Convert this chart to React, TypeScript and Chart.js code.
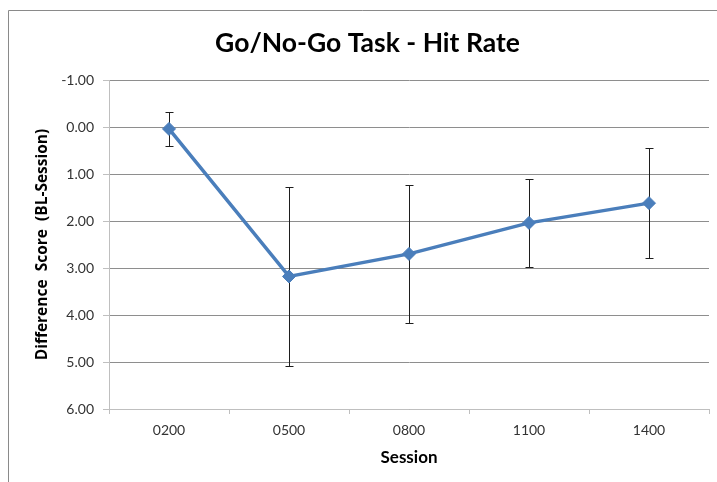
import React, { useEffect, useRef } from "react";
import { Chart, registerables } from "chart.js";

Chart.register(...registerables);

// ---- data ----
const categories = ["0200", "0500", "0800", "1100", "1400"];
const hitRateDiff = [0.04, 3.18, 2.7, 2.04, 1.62];
const errorSize = [0.36, 1.91, 1.47, 0.94, 1.17];
const yMin = -1;
const yMax = 6;
const yStep = 1;

const titleText = "Go/No-Go Task - Hit Rate";
const xTitle = "Session";
const yTitle = "Difference  Score  (BL-Session)";

const framePlugin = {
  id: "frame",
  beforeDraw(chart: any) {
    const { ctx, width, height } = chart;
    ctx.save();
    ctx.fillStyle = "#ffffff";
    ctx.fillRect(0, 0, width, height);
    ctx.strokeStyle = "#8a8a8a";
    ctx.lineWidth = 1;
    ctx.beginPath();
    ctx.moveTo(8.5, height);
    ctx.lineTo(8.5, 10.5);
    ctx.lineTo(width, 10.5);
    ctx.stroke();
    ctx.restore();
  },
};

const errorBarPlugin = {
  id: "errorBars",
  beforeDatasetsDraw(chart: any) {
    const { ctx } = chart;
    const x = chart.scales.x;
    const y = chart.scales.y;
    ctx.save();
    ctx.strokeStyle = "#1e1e1e";
    ctx.lineWidth = 1;
    hitRateDiff.forEach((v, i) => {
      const px = Math.round(x.getPixelForValue(i)) + 0.5;
      const top = Math.round(y.getPixelForValue(v - errorSize[i])) + 0.5;
      const bot = Math.round(y.getPixelForValue(v + errorSize[i])) + 0.5;
      ctx.beginPath();
      ctx.moveTo(px, top);
      ctx.lineTo(px, bot);
      ctx.moveTo(px - 4, top);
      ctx.lineTo(px + 4, top);
      ctx.moveTo(px - 4, bot);
      ctx.lineTo(px + 4, bot);
      ctx.stroke();
    });
    ctx.restore();
  },
};

export default function App() {
  const ref = useRef<HTMLCanvasElement>(null);

  useEffect(() => {
    if (!ref.current) return;
    const chart = new Chart(ref.current, {
      type: "line",
      data: {
        labels: categories,
        datasets: [
          {
            data: hitRateDiff,
            borderColor: "#4a7ebb",
            backgroundColor: "#4a7ebb",
            borderWidth: 3.5,
            pointStyle: "rectRot",
            pointRadius: 6.5,
            pointBorderWidth: 1,
            pointBorderColor: "#4a7ebb",
            pointBackgroundColor: "#4a7ebb",
            tension: 0,
          },
        ],
      },
      options: {
        responsive: false,
        animation: false,
        layout: { padding: { left: 26, right: 8, top: 0, bottom: 0 } },
        plugins: {
          legend: { display: false },
          tooltip: { enabled: false },
          title: {
            display: true,
            text: titleText,
            color: "#000000",
            font: { family: "Lato", weight: "bold", size: 26.5 },
            padding: { top: 27.5, bottom: 20.7 },
          },
        },
        scales: {
          x: {
            type: "category",
            offset: true,
            grid: {
              drawOnChartArea: false,
              offset: true,
              tickLength: 5,
              color: "#bfbfbf",
            },
            border: { color: "#bfbfbf" },
            ticks: {
              color: "#333333",
              font: { family: "Lato", size: 14 },
              padding: 8,
              maxRotation: 0,
            },
            title: {
              display: true,
              text: xTitle,
              color: "#000000",
              font: { family: "Lato", weight: "bold", size: 17 },
              padding: { top: 0, bottom: 14.4 },
            },
            afterFit: (s: any) => {
              s.height = 73;
            },
          },
          y: {
            type: "linear",
            reverse: true,
            min: yMin,
            max: yMax,
            ticks: {
              stepSize: yStep,
              color: "#333333",
              font: { family: "Lato", size: 14 },
              padding: 9,
              callback: (v: any) => Number(v).toFixed(2),
            },
            grid: {
              color: "#8e8e8e",
              tickColor: "#bfbfbf",
              tickLength: 6,
            },
            border: { color: "#bfbfbf" },
            title: {
              display: true,
              text: yTitle,
              color: "#000000",
              font: { family: "Open Sans", weight: "bold", size: 15.5 },
              padding: { top: 7.7, bottom: 0 },
            },
            afterFit: (s: any) => {
              s.width = 83;
            },
          },
        },
      },
      plugins: [framePlugin, errorBarPlugin],
    });
    return () => chart.destroy();
  }, []);

  return (
    <canvas
      ref={ref}
      width={717}
      height={482}
      style={{ position: "fixed", left: 0, top: 0, display: "block", width: 717, height: 482 }}
    />
  );
}
